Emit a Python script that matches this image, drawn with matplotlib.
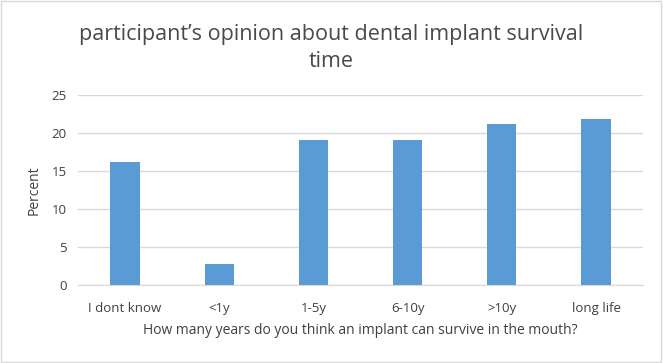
import matplotlib.pyplot as plt
from matplotlib.patches import Rectangle

# dados
categorias = ['I dont know', '<1y', '1-5y', '6-10y', '>10y', 'long life']
percentual = [16.2, 2.7, 19.1, 19.1, 21.2, 21.9]
yticks = [0, 5, 10, 15, 20, 25]

plt.rcParams['font.family'] = ['Open Sans', 'DejaVu Sans']

fig = plt.figure(figsize=(6.63, 3.63), dpi=100)
ax = fig.add_axes([0.1176, 0.2149, 0.8524, 0.5234])

x = range(len(categorias))
ax.bar(x, percentual, width=0.31, color='#5B9BD5', zorder=3)

ax.set_xlim(-0.5, len(categorias) - 0.5)
ax.set_ylim(0, 25)
ax.set_yticks(yticks)
ax.set_xticks(list(x))
ax.set_xticklabels(categorias)
ax.grid(axis='y', color='#D9D9D9', linewidth=1, zorder=0)
for s in ['top', 'right', 'left']:
    ax.spines[s].set_visible(False)
ax.spines['bottom'].set_color('#D9D9D9')
ax.tick_params(axis='x', length=0, labelsize=9.5, colors='#404040', pad=12)
ax.tick_params(axis='y', length=0, labelsize=9.5, colors='#404040', pad=8)

ax.set_xlabel('How many years do you think an implant can survive in the mouth?',
              fontsize=10, color='#404040', labelpad=6)
ax.set_ylabel('Percent', fontsize=10, color='#404040', labelpad=7)

fig.text(0.5, 0.868, 'participant\u2019s opinion about dental implant survival\ntime',
         ha='center', va='center', fontsize=15.5, color='#4a4a4a', linespacing=1.4)

# borda do gráfico
fig.patches.append(Rectangle((0.002, 0.003), 0.995, 0.994, transform=fig.transFigure,
                             fill=False, edgecolor='#D9D9D9', linewidth=1))

fig.savefig('out.png', dpi=100)
